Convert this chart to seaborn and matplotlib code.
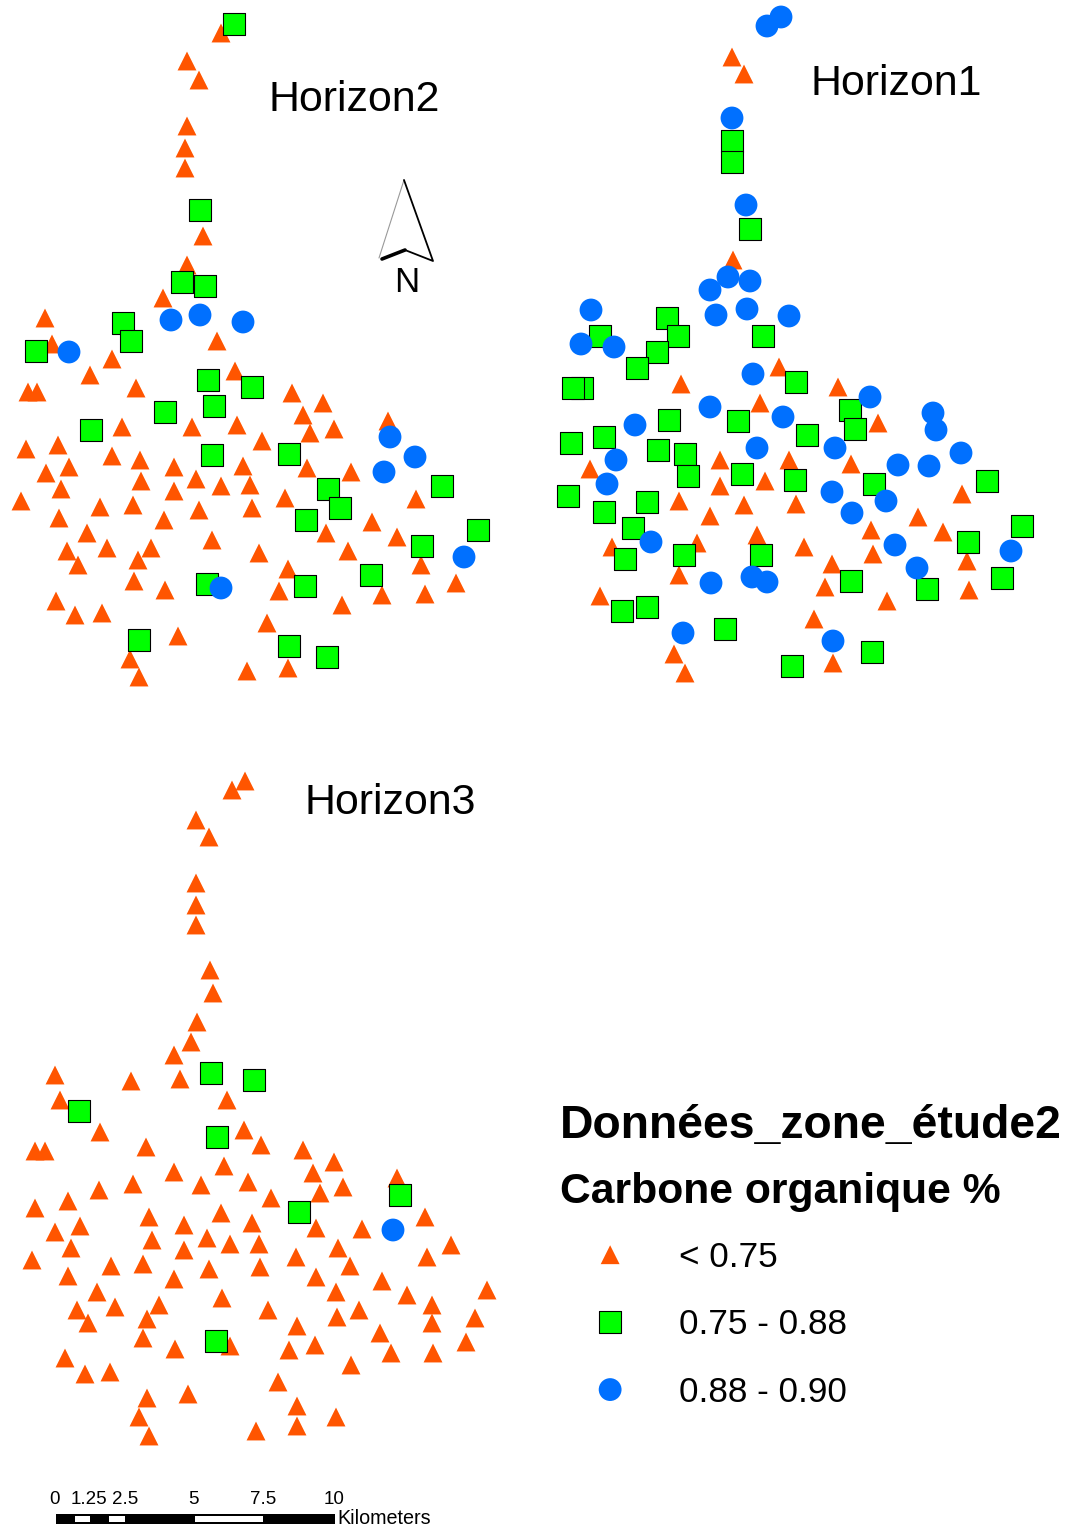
import matplotlib
matplotlib.use("Agg")
import matplotlib.pyplot as plt
import pandas as pd
import seaborn as sns
from matplotlib.patches import Polygon, Rectangle

# map points (x, y in map units, y going down)
h2_low = [(221,33),(187,61),(199,80),(187,126),(185,148),(185,168),(203,236),(187,265),(163,298),(45,318),(52,344),(217,341),(112,359),(90,375),(235,371),(136,388),(28,392),(37,392),(292,393),(323,403),(303,415),(122,427),(192,427),(237,425),(334,429),(310,433),(388,421),(58,445),(26,449),(262,441),(112,456),(140,460),(69,467),(46,473),(174,467),(243,466),(307,468),(351,472),(141,481),(196,479),(61,489),(174,491),(221,486),(250,485),(21,501),(285,498),(416,499),(100,507),(133,505),(199,510),(252,508),(59,518),(164,520),(372,522),(87,533),(326,533),(212,540),(397,537),(67,551),(107,548),(151,548),(259,553),(348,551),(78,565),(138,560),(288,569),(421,565),(134,581),(165,590),(279,591),(382,595),(425,594),(456,583),(56,601),(75,615),(102,613),(342,605),(267,623),(178,636),(130,659),(247,671),(288,668),(139,677)]
h2_mid = [(234,24),(200,210),(182,282),(205,286),(123,323),(131,341),(36,351),(208,380),(252,387),(214,406),(165,412),(91,430),(212,455),(289,454),(328,489),(340,508),(442,486),(306,520),(478,530),(422,546),(371,575),(207,584),(305,586),(139,640),(289,646),(327,657)]
h2_high = [(171,320),(200,315),(243,322),(69,352),(390,437),(415,457),(384,472),(464,557),(221,588)]

h1_low = [(732,57),(744,74),(733,260),(779,367),(681,384),(838,387),(760,403),(878,423),(590,469),(720,460),(789,460),(851,464),(720,486),(765,481),(962,494),(679,501),(744,505),(796,504),(710,516),(918,517),(871,530),(943,532),(757,535),(612,547),(697,543),(804,547),(873,554),(832,564),(967,561),(679,575),(825,587),(969,590),(600,596),(887,601),(814,619),(674,654),(833,663),(685,673)]
h1_mid = [(732,141),(732,162),(750,229),(600,336),(667,318),(678,336),(657,352),(763,336),(637,368),(582,388),(573,388),(796,382),(850,410),(855,429),(738,421),(669,420),(807,435),(571,443),(604,437),(658,450),(685,454),(688,476),(742,474),(795,480),(874,484),(987,481),(568,496),(647,502),(604,512),(1022,526),(633,528),(968,542),(625,559),(684,555),(761,555),(1002,578),(851,581),(927,589),(622,611),(647,607),(725,629),(872,652),(792,666)]
h1_high = [(767,26),(781,17),(732,118),(746,205),(728,277),(710,290),(750,281),(716,315),(747,309),(789,316),(591,310),(581,344),(614,347),(753,374),(870,397),(710,407),(783,417),(635,425),(933,413),(936,430),(757,448),(835,448),(961,453),(616,460),(898,465),(929,466),(607,484),(832,492),(886,501),(852,513),(651,542),(895,545),(1011,551),(917,568),(711,583),(752,577),(767,582),(683,633),(833,641)]

h3_low = [(232,790),(245,781),(196,820),(209,837),(196,883),(196,905),(196,925),(210,970),(213,993),(197,1022),(191,1042),(174,1055),(180,1079),(131,1081),(55,1075),(60,1100),(227,1100),(100,1132),(244,1130),(146,1147),(35,1151),(45,1151),(261,1145),(303,1150),(334,1162),(313,1173),(174,1172),(224,1166),(343,1187),(320,1193),(133,1184),(201,1185),(248,1182),(99,1190),(68,1201),(271,1198),(397,1178),(35,1208),(149,1217),(221,1213),(425,1217),(80,1226),(55,1232),(184,1225),(252,1223),(316,1228),(362,1229),(152,1240),(207,1238),(230,1244),(259,1244),(71,1248),(184,1250),(338,1248),(451,1245),(427,1257),(32,1260),(296,1257),(111,1266),(143,1264),(209,1269),(260,1267),(350,1266),(68,1276),(174,1279),(316,1277),(382,1281),(487,1290),(97,1292),(336,1292),(407,1295),(222,1298),(159,1305),(77,1310),(115,1307),(268,1310),(359,1310),(432,1305),(147,1319),(88,1323),(337,1317),(475,1318),(432,1323),(297,1326),(143,1338),(380,1333),(230,1346),(175,1349),(315,1345),(289,1350),(466,1342),(391,1353),(433,1353),(65,1358),(351,1365),(85,1374),(110,1372),(278,1382),(147,1398),(188,1394),(297,1406),(139,1417),(336,1417),(297,1426),(256,1431),(149,1436)]
h3_mid = [(211,1073),(254,1080),(79,1111),(217,1137),(400,1195),(299,1212),(216,1341)]
h3_high = [(393,1230)]

classes = ["< 0.75", "0.75 - 0.88", "0.88 - 0.90"]
low = h2_low + h1_low + h3_low
mid = h2_mid + h1_mid + h3_mid
high = h2_high + h1_high + h3_high

scale_ticks = ["0", "1.25", "2.5", "5", "7.5", "10"]

sns.set_theme(style="white")
plt.rcParams["font.family"] = ["Liberation Sans", "DejaVu Sans"]

fig, ax = plt.subplots(figsize=(10.67, 15.28), dpi=100)
fig.subplots_adjust(0, 0, 1, 1)
ax.set_xlim(0, 1067)
ax.set_ylim(1528, 0)
ax.axis("off")

styles = [
    (low, classes[0], "^", "#FF5500", "none", 0, 185),
    (mid, classes[1], "s", "#00FF00", "black", 0.8, 265),
    (high, classes[2], "o", "#0070FF", "none", 0, 270),
]
for pts, name, mk, col, ec, lw, size in styles:
    df = pd.DataFrame(pts, columns=["x", "y"])
    sns.scatterplot(data=df, x="x", y="y", marker=mk, color=col, edgecolor=ec,
                    linewidth=lw, s=size, label=name, ax=ax, legend=False, zorder=3)
ax.set_xlabel("")
ax.set_ylabel("")

# horizon labels
ax.text(268, 100, "Horizon2", fontsize=30.9, color="black", va="center")
ax.text(810, 84, "Horizon1", fontsize=30.9, color="black", va="center")
ax.text(305, 803, "Horizon3", fontsize=30.9, color="black", va="center")

# legend
ax.text(560, 1126, "Données_zone_étude2", fontsize=33.3, fontweight="bold", va="center", color="black")
ax.text(560, 1192, "Carbone organique %", fontsize=30.7, fontweight="bold", va="center", color="black")
handles = [ax.collections[i] for i in range(3)]
leg = ax.legend(handles, classes, loc="upper left", bbox_to_anchor=(575, 1241),
                bbox_transform=ax.transData, frameon=False, fontsize=25.3,
                labelspacing=0.98, handletextpad=0.96, borderpad=0, borderaxespad=0,
                scatteryoffsets=[0.5])
for t in leg.get_texts():
    t.set_color("black")

# north arrow
ax.add_patch(Polygon([(404, 180), (379, 258), (405, 250), (433, 261)], closed=True,
                     facecolor="white", edgecolor="none", zorder=2))
ax.plot([404, 379], [180, 258], color="#999999", lw=0.8, zorder=2)
ax.plot([404, 433, 405], [180, 261, 250], color="black", lw=1.3, zorder=2)
ax.plot([382, 405], [259, 250], color="black", lw=2.6, zorder=2)
ax.text(407, 283, "N", fontsize=25, ha="center", va="center", color="black")

# scale bar
ax.add_patch(Rectangle((56, 1514), 279, 10, facecolor="black", edgecolor="none"))
for x0, x1 in [(75, 90), (109, 125), (195, 263)]:
    ax.add_patch(Rectangle((x0, 1516), x1 - x0, 6, facecolor="white", edgecolor="none"))
for label, x in zip(scale_ticks, [55, 89, 125, 193, 263, 334]):
    ax.text(x, 1500, label, fontsize=13.5, ha="center", va="center", color="black")
ax.text(337, 1518, "Kilometers", fontsize=14.2, va="center", color="black")

fig.savefig("out.png", dpi=100)
